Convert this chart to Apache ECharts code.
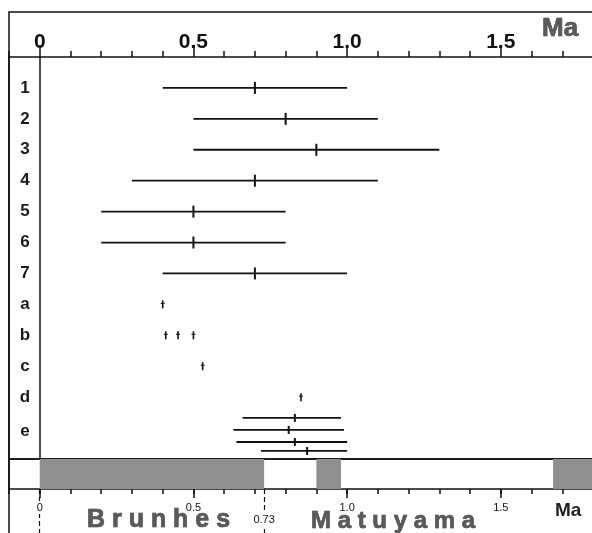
<!DOCTYPE html>
<html lang="en">
<head>
    <meta charset="UTF-8">
    <title>Age estimates vs polarity time scale</title>
    <script src="https://cdn.jsdelivr.net/npm/echarts@6.0.0/dist/echarts.min.js"></script>
    <style>
        html, body { margin: 0; padding: 0; background: #fff; }
        #main { width: 592px; height: 533px; }
    </style>
</head>
<body>
    <div id="main"></div>

    <script>
        // rows (y position in row units, 0 = row "1")
        var rowLabels = ['1', '2', '3', '4', '5', '6', '7', 'a', 'b', 'c', 'd', 'e'];
        var rowPos = [0, 1, 2, 3, 4, 5, 6, 7, 8, 9, 10, 11.1];

        // age ranges (Ma): low - best - high
        var ivRow  = [0, 1, 2, 3, 4, 5, 6, 10.67, 11.06, 11.45, 11.74];
        var ivLow  = [0.40, 0.50, 0.50, 0.30, 0.20, 0.20, 0.40, 0.66, 0.63, 0.64, 0.72];
        var ivMid  = [0.70, 0.80, 0.90, 0.70, 0.50, 0.50, 0.70, 0.83, 0.81, 0.83, 0.87];
        var ivHigh = [1.00, 1.10, 1.30, 1.10, 0.80, 0.80, 1.00, 0.98, 0.99, 1.00, 1.00];

        // single ages
        var ptRow = [7, 8, 8, 8, 9, 10];
        var ptAge = [0.40, 0.41, 0.45, 0.50, 0.53, 0.85];

        // normal polarity intervals (grey)
        var normStart = [0.00, 0.90, 1.67];
        var normEnd   = [0.73, 0.98, 1.80];

        var majorTicks = [0, 0.5, 1.0, 1.5];
        var boundaryTicks = [0, 0.73];
        var boundaryLabel = [0.73];

        var chart = echarts.init(document.getElementById('main'));

        function fmtAge(v) {
            if (Math.abs(v) < 1e-9) return '0';
            return Math.abs(v * 10 - Math.round(v * 10)) < 1e-9 ? v.toFixed(1) : v.toFixed(2);
        }

        function rowName(v) {
            for (var i = 0; i < rowPos.length; i++) {
                if (Math.abs(rowPos[i] - v) < 1e-6) return rowLabels[i];
            }
            return '';
        }

        var ink = '#111';

        function renderInterval(params, api) {
            var lo = api.coord([api.value(0), api.value(3)]);
            var mid = api.coord([api.value(1), api.value(3)]);
            var hi = api.coord([api.value(2), api.value(3)]);
            var half = api.value(3) > 10.5 ? 4 : 6;
            return {
                type: 'group',
                children: [
                    { type: 'line', shape: { x1: lo[0], y1: lo[1], x2: hi[0], y2: hi[1] },
                      style: { stroke: ink, lineWidth: 1.8 } },
                    { type: 'line', shape: { x1: mid[0], y1: mid[1] - half, x2: mid[0], y2: mid[1] + half },
                      style: { stroke: ink, lineWidth: 2 } }
                ]
            };
        }

        function renderPoint(params, api) {
            var p = api.coord([api.value(0), api.value(1)]);
            return {
                type: 'group',
                children: [
                    { type: 'line', shape: { x1: p[0], y1: p[1] - 4, x2: p[0], y2: p[1] + 4 },
                      style: { stroke: ink, lineWidth: 1.6 } },
                    { type: 'line', shape: { x1: p[0] - 2, y1: p[1] - 1, x2: p[0] + 2, y2: p[1] - 1 },
                      style: { stroke: ink, lineWidth: 1 } }
                ]
            };
        }

        function renderChron(params, api) {
            var a = api.coord([api.value(0), 1]);
            var b = api.coord([api.value(1), 0]);
            return {
                type: 'rect',
                shape: { x: a[0], y: a[1], width: b[0] - a[0], height: b[1] - a[1] },
                style: { fill: '#8f8f8f' }
            };
        }

        var xBase = { type: 'value', min: -0.1, max: 1.8, splitLine: { show: false } };
        var noLine = { show: false, onZero: false };
        var yBase = { gridIndex: 0, type: 'value', inverse: true, min: -1, max: 12,
                      axisTick: { show: false }, splitLine: { show: false } };

        var option = {
            animation: false,
            backgroundColor: '#fff',
            grid: [
                { left: 9, top: 57, width: 584, height: 402, outerBoundsMode: 'none', containLabel: false,
                  show: true, borderColor: ink, borderWidth: 1.5 },
                { left: 9, top: 459, width: 584, height: 30, outerBoundsMode: 'none', containLabel: false,
                  show: true, borderColor: ink, borderWidth: 1.5 }
            ],
            xAxis: [
                Object.assign({}, xBase, {
                    gridIndex: 0, position: 'top', interval: 0.1,
                    axisLine: noLine,
                    axisTick: { length: 6, lineStyle: { color: ink, width: 1.5 } },
                    axisLabel: { show: false }
                }),
                Object.assign({}, xBase, {
                    gridIndex: 0, position: 'top',
                    axisLine: noLine,
                    axisTick: { customValues: majorTicks, length: 12, lineStyle: { color: ink, width: 1.5 } },
                    axisLabel: {
                        customValues: majorTicks, formatter: fmtAge, margin: 4,
                        color: ink, fontSize: 21, fontWeight: 'bold', fontFamily: 'Liberation Sans'
                    }
                }),
                Object.assign({}, xBase, {
                    gridIndex: 1, position: 'bottom', interval: 0.1,
                    axisLine: noLine,
                    axisTick: { length: 5, lineStyle: { color: ink, width: 1.5 } },
                    axisLabel: { show: false }
                }),
                Object.assign({}, xBase, {
                    gridIndex: 1, position: 'bottom', z: 4,
                    axisLine: noLine,
                    axisTick: { customValues: majorTicks, length: 9, lineStyle: { color: ink, width: 1.5 } },
                    axisLabel: {
                        customValues: majorTicks, formatter: fmtAge, margin: 12,
                        color: ink, fontSize: 11, fontFamily: 'Liberation Sans',
                        backgroundColor: '#fff', padding: [1, 1]
                    }
                }),
                Object.assign({}, xBase, {
                    gridIndex: 1, position: 'bottom', z: 2,
                    axisLine: noLine,
                    axisTick: { customValues: boundaryTicks, length: 44,
                                lineStyle: { color: ink, width: 1.2, type: [5, 3] } },
                    axisLabel: {
                        customValues: boundaryLabel, formatter: fmtAge, margin: 24,
                        color: ink, fontSize: 11, fontFamily: 'Liberation Sans',
                        backgroundColor: '#fff', padding: [1, 1]
                    }
                })
            ],
            yAxis: [
                Object.assign({}, yBase, {
                    position: 'left',
                    axisLine: { show: false, onZero: false },
                    axisLabel: {
                        customValues: rowPos, formatter: rowName, margin: -16, align: 'center',
                        color: '#1a1a1a', fontSize: 17, fontWeight: 'bold', fontFamily: 'Liberation Sans'
                    }
                }),
                { gridIndex: 1, type: 'value', min: 0, max: 1, show: false },
                // vertical line at 0 Ma
                Object.assign({}, yBase, {
                    axisLine: { onZero: true, onZeroAxisIndex: 0, lineStyle: { color: ink, width: 1.5 } },
                    axisLabel: { show: false }
                })
            ],
            series: [
                {
                    type: 'custom', xAxisIndex: 2, yAxisIndex: 1, clip: true,
                    data: normStart.map(function (s, i) { return [s, normEnd[i]]; }),
                    encode: { x: [0, 1] },
                    renderItem: renderChron
                },
                {
                    type: 'custom', xAxisIndex: 0, yAxisIndex: 0,
                    data: ivRow.map(function (r, i) { return [ivLow[i], ivMid[i], ivHigh[i], r]; }),
                    encode: { x: [0, 1, 2], y: 3 },
                    renderItem: renderInterval
                },
                {
                    type: 'custom', xAxisIndex: 0, yAxisIndex: 0,
                    data: ptAge.map(function (a, i) { return [a, ptRow[i]]; }),
                    encode: { x: 0, y: 1 },
                    renderItem: renderPoint
                }
            ],
            graphic: [
                { type: 'rect', z: 10, silent: true,
                  shape: { x: 9, y: 12, width: 620, height: 560 },
                  style: { fill: null, stroke: ink, lineWidth: 1.5 } },
                { type: 'text', z: 10, x: 542, y: 16,
                  style: { text: 'Ma', font: 'bold 26px "Liberation Sans"', fill: '#5a5a5a',
                           stroke: '#222', lineWidth: 0.6 } },
                { type: 'text', z: 10, x: 555, y: 501,
                  style: { text: 'Ma', font: 'bold 19px "Liberation Sans"', fill: '#222' } },
                { type: 'text', z: 10, x: 87, y: 508,
                  style: { text: 'B r u n h e s', font: 'bold 25px "Liberation Sans"', fill: '#5a5a5a',
                           stroke: '#222', lineWidth: 0.6 } },
                { type: 'text', z: 10, x: 311, y: 509,
                  style: { text: 'M a t u y a m a', font: 'bold 24px "Liberation Sans"', fill: '#5a5a5a',
                           stroke: '#222', lineWidth: 0.6 } }
            ]
        };

        chart.setOption(option);
    </script>
</body>
</html>
